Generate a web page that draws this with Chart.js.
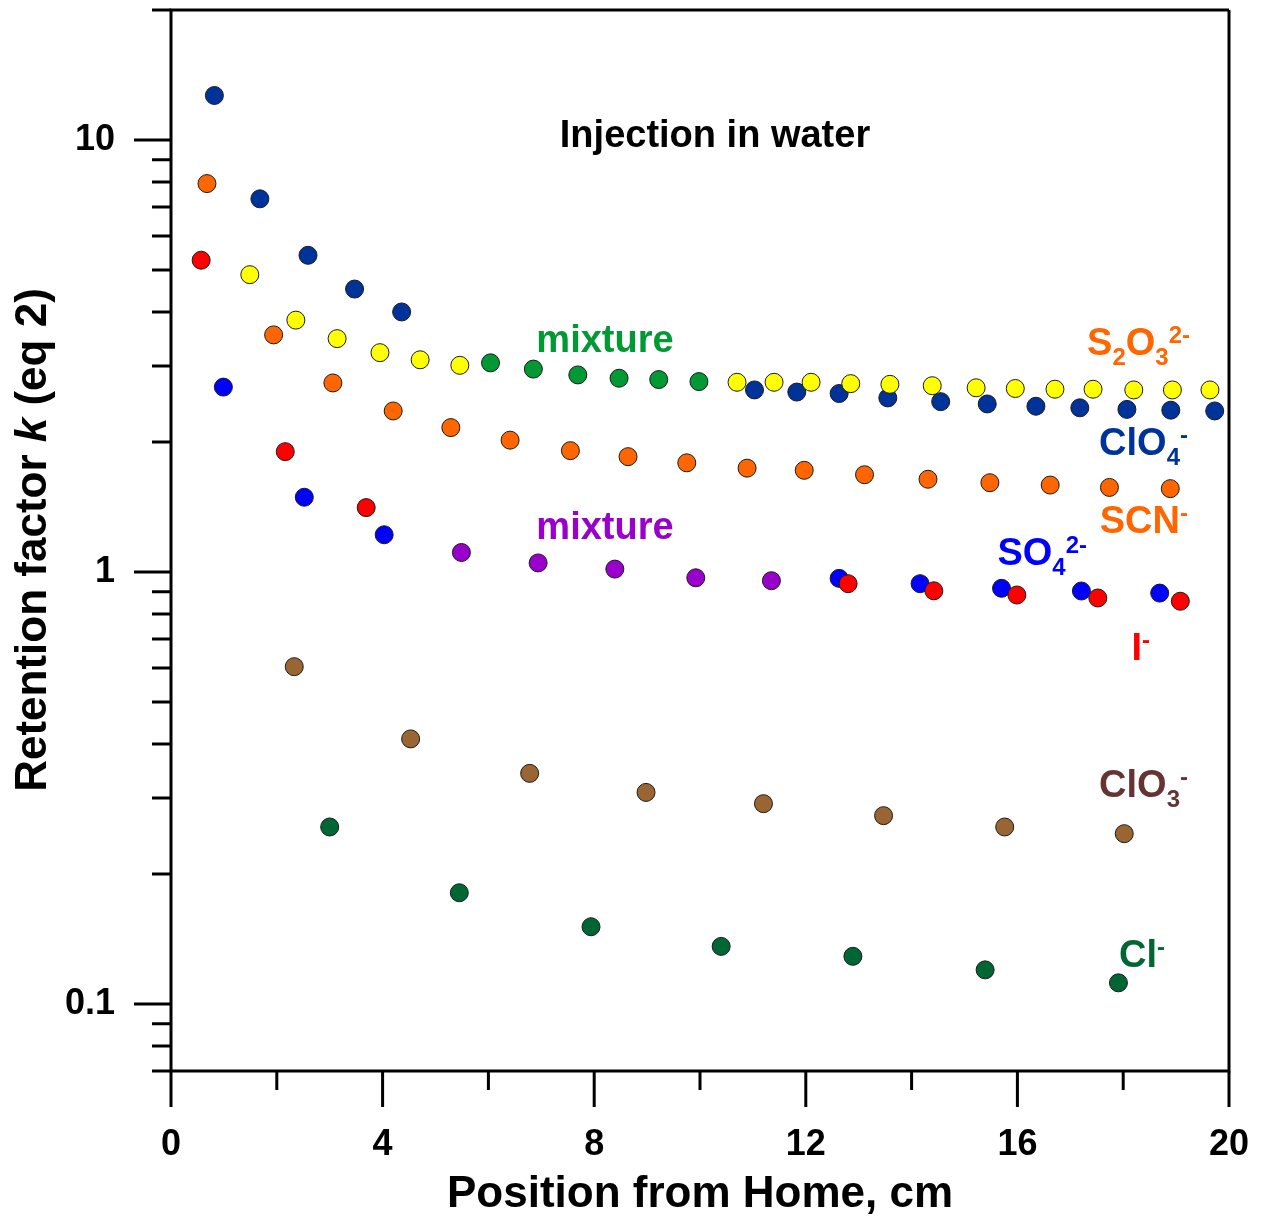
<!DOCTYPE html>
<html>
<head>
<meta charset="utf-8">
<title>Retention factor vs position</title>
<script src="https://cdn.jsdelivr.net/npm/chart.js@4/dist/chart.umd.min.js"></script>
<style>
  body { margin: 0; background: #fff; }
  canvas { display: block; }
</style>
</head>
<body>
<canvas id="kChart" width="1267" height="1216"></canvas>
<script>
// axis ticks
const xTicks = [0, 2, 4, 6, 8, 10, 12, 14, 16, 18, 20];
const xLabeled = [0, 4, 8, 12, 16, 20];
const yTicks = [0.07, 0.08, 0.09, 0.1, 0.2, 0.3, 0.4, 0.5, 0.6, 0.7, 0.8, 0.9,
                1, 2, 3, 4, 5, 6, 7, 8, 9, 10, 20];
const yLabeled = [0.1, 1, 10];

// S2O3 2- (yellow)
const s2o3X = [1.49, 2.36, 3.14, 3.95, 4.71, 5.46, 10.70, 11.40, 12.10, 12.85, 13.59, 14.39, 15.22, 15.96, 16.71, 17.43, 18.20, 18.93, 19.64];
const s2o3K = [4.88, 3.83, 3.47, 3.22, 3.10, 3.01, 2.75, 2.75, 2.75, 2.73, 2.72, 2.70, 2.67, 2.66, 2.65, 2.65, 2.64, 2.64, 2.64];
// ClO4- (navy)
const clo4X = [0.82, 1.68, 2.59, 3.47, 4.36, 11.03, 11.83, 12.63, 13.55, 14.55, 15.43, 16.35, 17.18, 18.07, 18.90, 19.73];
const clo4K = [12.68, 7.31, 5.41, 4.52, 4.00, 2.64, 2.61, 2.59, 2.53, 2.48, 2.45, 2.42, 2.40, 2.38, 2.37, 2.36];
// S2O3 2- + ClO4- co-eluting (green)
const mixAX = [6.04, 6.85, 7.69, 8.47, 9.22, 9.98];
const mixAK = [3.05, 2.95, 2.86, 2.81, 2.79, 2.76];
// SCN- (orange)
const scnX = [0.68, 1.94, 3.06, 4.20, 5.29, 6.41, 7.55, 8.64, 9.75, 10.89, 11.97, 13.11, 14.31, 15.48, 16.62, 17.74, 18.89];
const scnK = [7.93, 3.54, 2.74, 2.36, 2.16, 2.02, 1.91, 1.85, 1.79, 1.74, 1.72, 1.68, 1.64, 1.61, 1.59, 1.57, 1.56];
// I- (red)
const iodX = [0.57, 2.16, 3.69, 12.80, 14.42, 15.99, 17.52, 19.08];
const iodK = [5.27, 1.90, 1.41, 0.940, 0.905, 0.885, 0.871, 0.856];
// SO4 2- (blue)
const so4X = [0.99, 2.52, 4.03, 12.63, 14.16, 15.70, 17.21, 18.69];
const so4K = [2.68, 1.49, 1.22, 0.967, 0.940, 0.917, 0.904, 0.894];
// I- + SO4 2- co-eluting (purple)
const mixBX = [5.49, 6.94, 8.39, 9.92, 11.35];
const mixBK = [1.11, 1.05, 1.016, 0.970, 0.955];
// ClO3- (brown)
const clo3X = [2.33, 4.53, 6.78, 8.98, 11.20, 13.47, 15.76, 18.02];
const clo3K = [0.604, 0.411, 0.342, 0.309, 0.291, 0.273, 0.257, 0.248];
// Cl- (dark green)
const clX = [3.00, 5.45, 7.94, 10.40, 12.89, 15.39, 17.91];
const clK = [0.257, 0.181, 0.151, 0.136, 0.129, 0.120, 0.112];

const FONT = '"Liberation Sans", Arial, sans-serif';

function pts(xs, ks) {
  return xs.map((x, i) => ({ x: x, y: ks[i] }));
}

function series(label, xs, ks, color) {
  return {
    label: label,
    data: pts(xs, ks),
    backgroundColor: color,
    borderColor: '#1a1a1a',
    borderWidth: 1,
    pointRadius: 9,
    pointHoverRadius: 9,
    showLine: false
  };
}

// draw text made of normal / sub / sup pieces, right aligned
function drawChem(ctx, parts, right, base, color) {
  const big = 'bold 38px ' + FONT;
  const small = 'bold 24px ' + FONT;
  let total = 0;
  parts.forEach(p => {
    ctx.font = p[1] ? small : big;
    total += ctx.measureText(p[0]).width;
  });
  let x = right - total;
  ctx.fillStyle = color;
  ctx.textAlign = 'left';
  ctx.textBaseline = 'alphabetic';
  parts.forEach(p => {
    ctx.font = p[1] ? small : big;
    const dy = p[1] === 'sub' ? 10 : (p[1] === 'sup' ? -12 : 0);
    ctx.fillText(p[0], x, base + dy);
    x += ctx.measureText(p[0]).width;
  });
}

const decorations = {
  id: 'decorations',
  afterDraw(chart) {
    const ctx = chart.ctx;
    const xs = chart.scales.x;
    const ys = chart.scales.y;
    const a = chart.chartArea;
    ctx.save();
    ctx.strokeStyle = '#000';
    ctx.lineWidth = 3;
    ctx.lineCap = 'butt';

    // frame
    ctx.beginPath();
    ctx.moveTo(a.left, a.top); ctx.lineTo(a.right, a.top);
    ctx.moveTo(a.right, a.top); ctx.lineTo(a.right, a.bottom);
    ctx.moveTo(a.left, a.top - 1.5); ctx.lineTo(a.left, a.bottom + 1.5);
    ctx.moveTo(a.left, a.bottom); ctx.lineTo(a.right + 1.5, a.bottom);
    ctx.stroke();

    // y ticks, outside on the left
    ctx.beginPath();
    yTicks.forEach(v => {
      const py = ys.getPixelForValue(v);
      const len = yLabeled.includes(v) ? 37 : 19;
      ctx.moveTo(a.left - len, py); ctx.lineTo(a.left, py);
    });
    // x ticks, outside below
    xTicks.forEach(v => {
      const px = xs.getPixelForValue(v);
      const len = xLabeled.includes(v) ? 36 : 19;
      ctx.moveTo(px, a.bottom); ctx.lineTo(px, a.bottom + len);
    });
    ctx.stroke();

    // axis titles
    ctx.fillStyle = '#000';
    ctx.textBaseline = 'alphabetic';
    ctx.textAlign = 'center';
    ctx.font = 'bold 44px ' + FONT;
    ctx.fillText('Position from Home, cm', (a.left + a.right) / 2, 1207);

    const yParts = [['Retention factor ', 'bold 44px ' + FONT],
                    ['k', 'italic bold 44px ' + FONT],
                    [' (eq 2)', 'bold 44px ' + FONT]];
    let w = 0;
    yParts.forEach(p => { ctx.font = p[1]; w += ctx.measureText(p[0]).width; });
    ctx.save();
    ctx.translate(46, 540);
    ctx.rotate(-Math.PI / 2);
    ctx.textAlign = 'left';
    let tx = -w / 2;
    yParts.forEach(p => {
      ctx.font = p[1];
      ctx.fillText(p[0], tx, 0);
      tx += ctx.measureText(p[0]).width;
    });
    ctx.restore();

    // in-plot text
    ctx.textAlign = 'center';
    ctx.font = 'bold 38px ' + FONT;
    ctx.fillStyle = '#000';
    ctx.fillText('Injection in water', 715, 147);
    ctx.fillStyle = '#009933';
    ctx.fillText('mixture', 605, 352);
    ctx.fillStyle = '#9900CC';
    ctx.fillText('mixture', 605, 539);

    drawChem(ctx, [['S'], ['2', 'sub'], ['O'], ['3', 'sub'], ['2-', 'sup']], 1190, 355, '#FF6600');
    drawChem(ctx, [['ClO'], ['4', 'sub'], ['-', 'sup']], 1188, 455, '#003399');
    drawChem(ctx, [['SCN'], ['-', 'sup']], 1188, 533, '#FF6600');
    drawChem(ctx, [['SO'], ['4', 'sub'], ['2-', 'sup']], 1087, 565, '#0000FF');
    drawChem(ctx, [['I'], ['-', 'sup']], 1150, 660, '#FF0000');
    drawChem(ctx, [['ClO'], ['3', 'sub'], ['-', 'sup']], 1188, 797, '#663333');
    drawChem(ctx, [['Cl'], ['-', 'sup']], 1165, 967, '#006633');
    ctx.restore();
  }
};

const ctx = document.getElementById('kChart').getContext('2d');
const kChart = new Chart(ctx, {
  type: 'scatter',
  data: {
    datasets: [
      series('S2O3 2-', s2o3X, s2o3K, '#FFFF00'),
      series('ClO4-', clo4X, clo4K, '#003399'),
      series('mixture S2O3/ClO4', mixAX, mixAK, '#009933'),
      series('SCN-', scnX, scnK, '#FF6600'),
      series('I-', iodX, iodK, '#FF0000'),
      series('SO4 2-', so4X, so4K, '#0000FF'),
      series('mixture I/SO4', mixBX, mixBK, '#9900CC'),
      series('ClO3-', clo3X, clo3K, '#996633'),
      series('Cl-', clX, clK, '#006633')
    ]
  },
  options: {
    responsive: false,
    animation: false,
    layout: { padding: { top: 7, right: 38, left: 0, bottom: 0 } },
    plugins: {
      legend: { display: false },
      tooltip: { enabled: false }
    },
    scales: {
      x: {
        type: 'linear',
        min: 0,
        max: 20,
        afterBuildTicks: s => { s.ticks = xTicks.map(v => ({ value: v })); },
        afterFit: s => {
          s.height = 145;
          s.paddingLeft = 0;
          s.paddingRight = 0;
        },
        grid: { display: false, drawTicks: false },
        border: { display: false },
        ticks: {
          padding: 52,
          maxRotation: 0,
          autoSkip: false,
          color: '#000',
          font: { family: FONT, size: 36, weight: 'bold' },
          callback: v => xLabeled.includes(v) ? String(v) : ''
        }
      },
      y: {
        type: 'logarithmic',
        min: 0.07,
        max: 20,
        afterBuildTicks: s => { s.ticks = yTicks.map(v => ({ value: v })); },
        afterFit: s => {
          s.width = 171;
          s.paddingTop = 0;
          s.paddingBottom = 0;
        },
        grid: { display: false, drawTicks: false },
        border: { display: false },
        ticks: {
          padding: 56,
          autoSkip: false,
          color: '#000',
          font: { family: FONT, size: 36, weight: 'bold' },
          callback: v => yLabeled.includes(v) ? String(v) : ''
        }
      }
    }
  },
  plugins: [decorations]
});
</script>
</body>
</html>
